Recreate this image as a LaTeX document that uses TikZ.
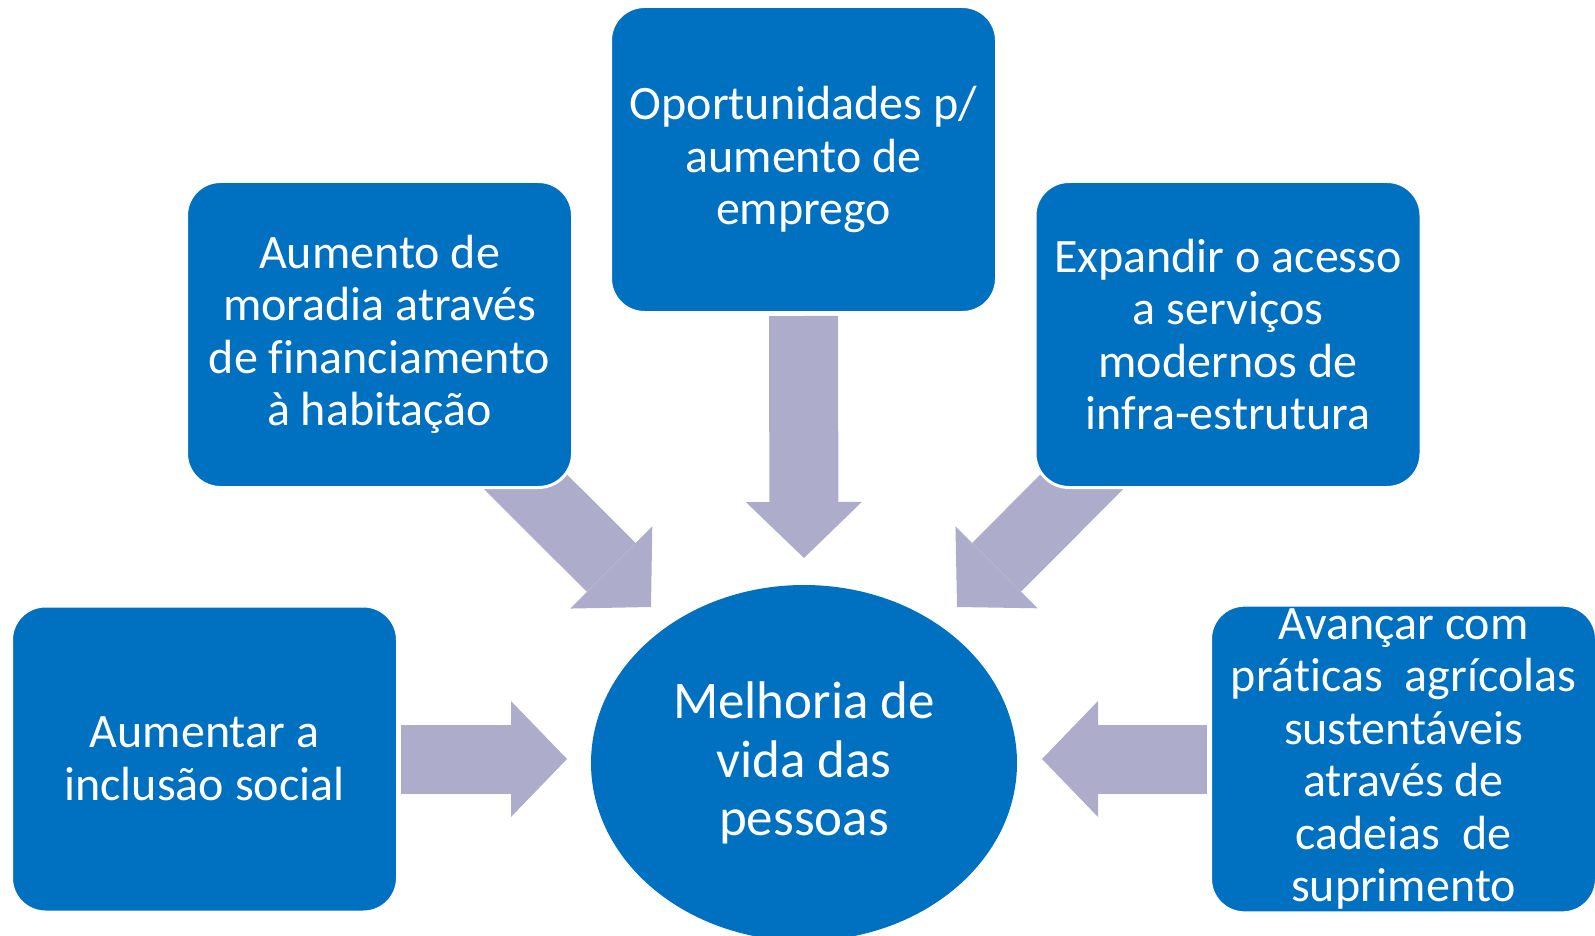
\documentclass[tikz,border=0pt]{standalone}
\usepackage{fontspec}
\setmainfont[Ligatures=NoCommon]{Carlito}
\usetikzlibrary{shapes.geometric,arrows.meta,calc,backgrounds}
\definecolor{boxblue}{RGB}{0,112,192}
\definecolor{flowgray}{RGB}{173,173,203}
\begin{document}
\begin{tikzpicture}[x=1pt,y=-1pt]
  \tikzstyle{box}=[rectangle, rounded corners=34pt, fill=boxblue, draw=white, line width=3pt, outer sep=0pt,
    minimum width=386pt, minimum height=306pt, text=white, align=center, font=\fontsize{48}{52.5}\selectfont]
  \tikzstyle{goal}=[ellipse, fill=boxblue, outer sep=0pt, inner sep=0pt, minimum width=426pt, minimum height=356pt,
    text=white, align=center, font=\fontsize{53}{58.5}\selectfont]
  \tikzstyle{flow}=[draw=flowgray, line width=69pt, -{Triangle[length=56pt,width=116pt,line width=0pt]}]
  \useasboundingbox (0,0) rectangle (1595,936);
  \node[box] (top) at (803.5,159.5) {Oportunidades p/\\aumento de\\emprego};
  \node[box] (ul) at (379.5,334.5) {Aumento de\\moradia através\\de financiamento\\à habitação};
  \node[box] (ur) at (1228,334.5) {Expandir o acesso\\a serviços\\modernos de\\infra-estrutura};
  \node[box] (ll) at (204.5,759) {Aumentar a\\inclusão social};
  \node[box] (lr) at (1403.5,759) {Avançar com\\práticas \ agrícolas\\sustentáveis\\através de\\cadeias \ de\\suprimento};
  \node[goal] (ell) at (804,763) {Melhoria de\\vida das\\pessoas};
  \begin{scope}[on background layer]
    \draw[flow] ($(top.south)+(0,3.5)$) -- ($(ell.north)+(0,-27)$);
    \draw[flow] ($(ul.south east)+(-83,-41.5)$) -- ($(ell.north)+(-153,22)$);
    \draw[flow] ($(ur.south west)+(82.5,-41.5)$) -- ($(ell.north)+(153,22)$);
    \draw[flow] ($(ll.east)+(3.5,0)$) -- ($(ll.east -| ell.west)+(-24,0)$);
    \draw[flow] ($(lr.west)+(-3.5,0)$) -- ($(lr.west -| ell.east)+(25,0)$);
  \end{scope}
\end{tikzpicture}
\end{document}
